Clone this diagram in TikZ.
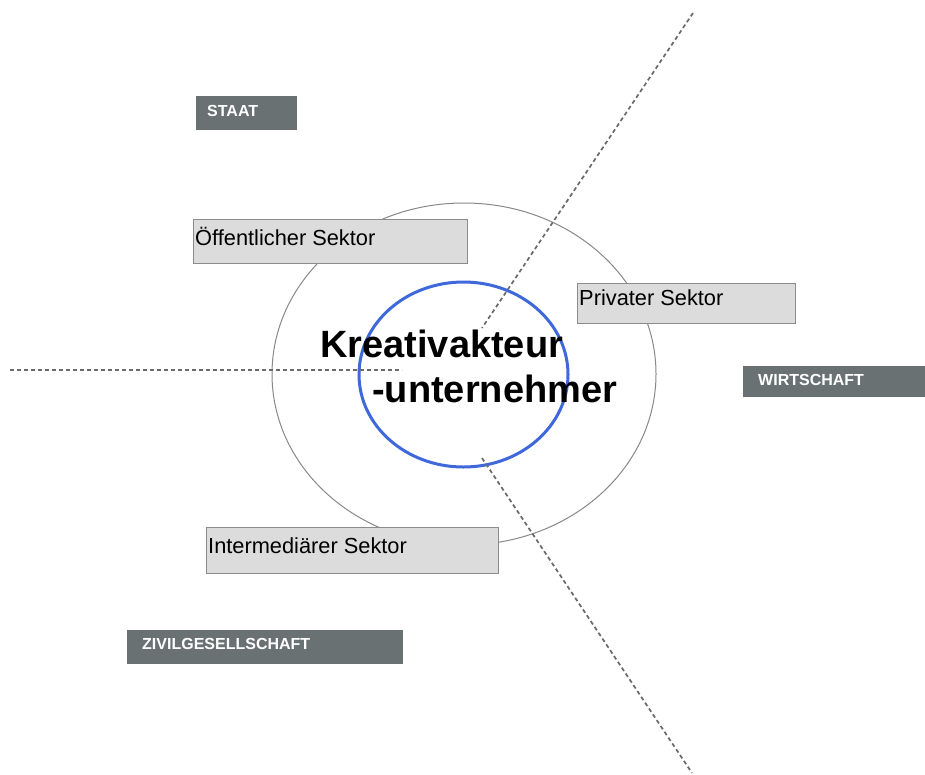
\documentclass[tikz,border=0pt]{standalone}
\usepackage{fontspec}
\setmainfont{Liberation Sans}
\usetikzlibrary{shapes.geometric}
\definecolor{darkbox}{HTML}{6A7173}
\definecolor{lightfill}{HTML}{DCDCDC}
\definecolor{lightborder}{HTML}{8C8C8C}
\definecolor{dashgray}{HTML}{6A6A6A}
\definecolor{ringgray}{HTML}{888888}
\definecolor{kblue}{HTML}{3F68DA}
\tikzset{
  darkrect/.style={rectangle, fill=darkbox, draw=none, inner sep=0pt},
  lightrect/.style={rectangle, fill=lightfill, draw=lightborder, line width=1pt, inner sep=0pt},
  darklabel/.style={anchor=base west, inner sep=0pt, text=white, font=\fontsize{16}{18}\selectfont\bfseries},
  sectorlabel/.style={anchor=base west, inner sep=0pt, text=black, font=\fontsize{21.8}{24}\selectfont},
  centerlabel/.style={anchor=base west, inner sep=0pt, text=black, font=\fontsize{38}{42}\selectfont\bfseries},
  sectorline/.style={draw=dashgray, line width=1.7pt, dash pattern=on 4pt off 3pt},
}
\begin{document}
\begin{tikzpicture}[x=1pt,y=-1pt]
\useasboundingbox[fill=white] (0,0) rectangle (925,774);
% rings
\node[ellipse, draw=ringgray, line width=1pt, minimum width=384pt, minimum height=342pt, inner sep=0pt] (outer) at (464,374) {};
\node[ellipse, draw=kblue, line width=3pt, minimum width=209pt, minimum height=185pt, inner sep=0pt] (inner) at (463.5,374.5) {};
% dividing lines
\coordinate (hl1) at (10,370);
\coordinate (hl2) at (402,370);
\coordinate (ul1) at (693,13);
\coordinate (ul2) at (482,328);
\coordinate (ll1) at (482,458);
\coordinate (ll2) at (692,773);
\draw[sectorline] (hl1) -- (hl2);
\draw[sectorline] (ul1) -- (ul2);
\draw[sectorline] (ll1) -- (ll2);
% sector boxes
\node[lightrect, minimum width=274pt, minimum height=44pt] (oeff) at (330,241) {};
\node[sectorlabel] (oefft) at (195,245) {Öffentlicher Sektor};
\node[lightrect, minimum width=218pt, minimum height=40pt] (priv) at (686,303) {};
\node[sectorlabel] (privt) at (579,305) {Privater Sektor};
\node[lightrect, minimum width=292pt, minimum height=46pt] (inter) at (352,550) {};
\node[sectorlabel] (intert) at (208,553) {Intermediärer Sektor};
% domain boxes
\node[darkrect, minimum width=101pt, minimum height=34pt] (staat) at (246.5,113) {};
\node[darklabel] (staatt) at (207,116) {STAAT};
\node[darkrect, minimum width=182pt, minimum height=31pt] (wirt) at (834,381.5) {};
\node[darklabel] (wirtt) at (758,385) {WIRTSCHAFT};
\node[darkrect, minimum width=276pt, minimum height=34pt] (ziv) at (265,647) {};
\node[darklabel] (zivt) at (142,649) {ZIVILGESELLSCHAFT};
% center text
\node[centerlabel] (k1) at (320,357) {Kreativakteur};
\node[centerlabel] (k2) at (372,402) {-unternehmer};
\end{tikzpicture}
\end{document}
